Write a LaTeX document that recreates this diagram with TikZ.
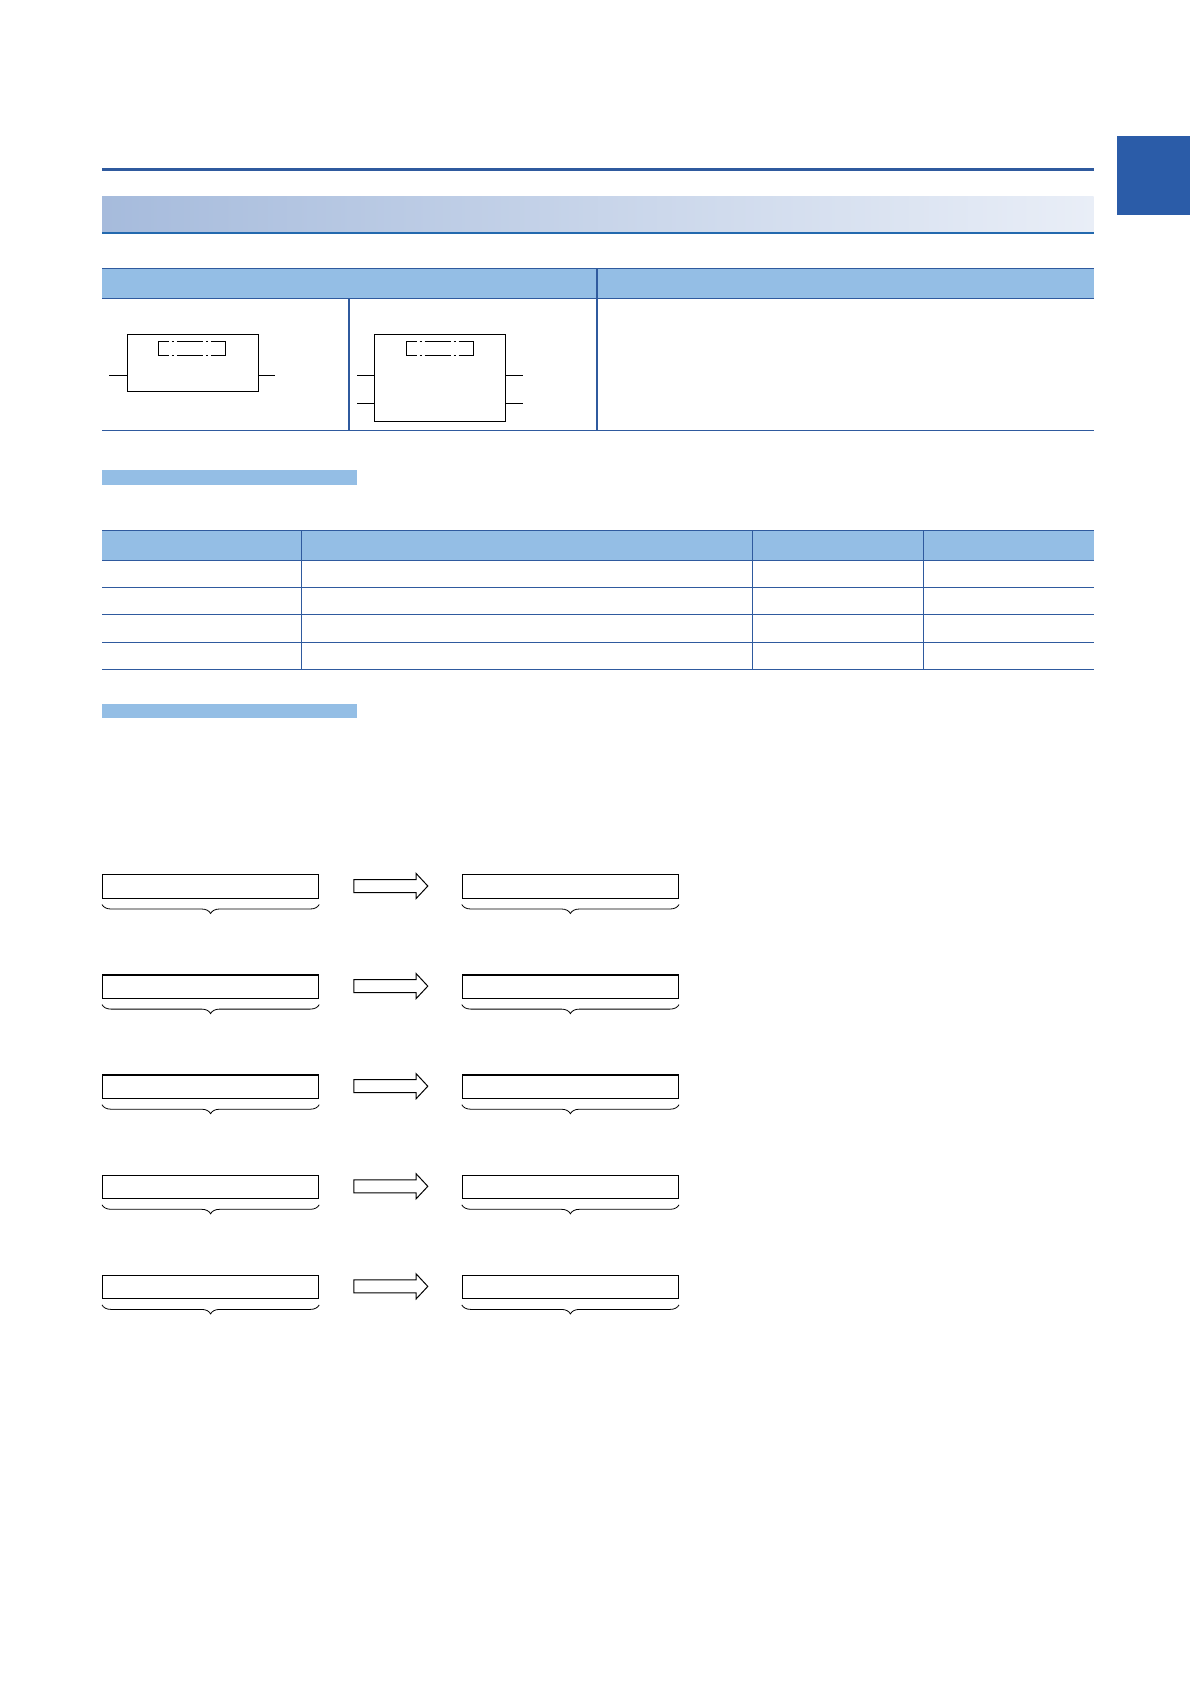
\documentclass[tikz,border=0pt]{standalone}
\usepackage{tikz}
\usetikzlibrary{shapes.arrows,decorations.pathreplacing}

\definecolor{rulecol}{HTML}{2F5A9E}
\definecolor{tabcol}{HTML}{2B5CA8}
\definecolor{headcol}{HTML}{94BEE5}
\definecolor{gradl}{HTML}{A6BBDC}
\definecolor{gradr}{HTML}{E9EEF7}
\definecolor{gradline}{HTML}{2369AE}

\begin{document}
\begin{tikzpicture}[x=0.5pt,y=-0.5pt]
  \tikzset{fblock/.style = {draw,line width=0.5pt,minimum width=65.5pt,inner sep=0,anchor=north west}}
  \tikzset{fname/.style = {minimum width=33pt,minimum height=7pt,inner sep=0}}
  \tikzset{pinline/.style = {line width=0.5pt}}
  \tikzset{dashdotline/.style = {line width=0.5pt,dash pattern=on 5pt off 1.5pt on 1pt off 1.5pt on 13pt off 1.5pt on 1pt off 1.5pt on 7pt}}
  \tikzset{tline/.style = {rulecol,line width=0.55pt}}
  \tikzset{databox/.style = {draw,line width=0.6pt,minimum width=108pt,minimum height=11.75pt,inner sep=0,anchor=north west}}
  \tikzset{conv/.style = {draw,line width=0.5pt,single arrow,minimum height=37pt,minimum width=12pt,
      single arrow head extend=3pt,single arrow tip angle=94,inner xsep=0,inner ysep=3pt,anchor=west}}
  \tikzset{brc/.style = {decorate,decoration={brace,mirror,amplitude=4.5pt},line width=0.4pt}}

\useasboundingbox (0,0) rectangle (1190,1684);

% page head
\fill[tabcol] (1117,136) rectangle (1190,215);
\draw[rulecol,line width=1.5pt] (102,169.5) -- (1093.5,169.5);
\shade[left color=gradl,right color=gradr] (102,196.7) rectangle (1093.5,232.7);
\draw[gradline,line width=0.6pt] (102,233) -- (1093.5,233);

% symbol table
\fill[headcol] (102,268.5) rectangle (1093.5,298.6);
\draw[tline] (102,268.5) -- (1093.5,268.5);
\draw[tline] (102,298.6) -- (1093.5,298.6);
\draw[tline] (102,430.7) -- (1093.5,430.7);
\draw[tline] (597,268.5) -- (597,430.7);
\draw[tline] (349,298.6) -- (349,430.7);

\node[fblock,minimum height=28.5pt] (fb1) at (127,334) {};
\node[fblock,minimum height=43.5pt] (fb2) at (374,334) {};
\node[fname] (fn1) at (192.3,348.5) {};
\node[fname] (fn2) at (440,348.5) {};
\foreach \f in {fn1,fn2} {
  \draw[pinline] (\f.north west) -- (\f.south west);
  \draw[pinline] (\f.north east) -- (\f.south east);
  \draw[dashdotline] (\f.north west) -- (\f.north east);
  \draw[dashdotline] (\f.south west) -- (\f.south east);
}

\coordinate (in1) at (109,376);
\coordinate (out1) at (275,376);
\draw[pinline] (in1) -- (in1 -| fb1.west);
\draw[pinline] (fb1.east |- out1) -- (out1);

\coordinate (in2a) at (357,376);
\coordinate (in2b) at (357,404);
\coordinate (out2a) at (523,376);
\coordinate (out2b) at (523,404);
\draw[pinline] (in2a) -- (in2a -| fb2.west);
\draw[pinline] (in2b) -- (in2b -| fb2.west);
\draw[pinline] (fb2.east |- out2a) -- (out2a);
\draw[pinline] (fb2.east |- out2b) -- (out2b);

% setting data
\fill[headcol] (102,470.4) rectangle (356.6,484.6);
\fill[headcol] (102,530.6) rectangle (1093.5,560.8);
\foreach \ry in {530.6,560.8,587.8,614.8,642.3,669.2}
  \draw[tline] (102,\ry) -- (1093.5,\ry);
\foreach \cx in {301.8,752.9,923.6}
  \draw[tline] (\cx,530.6) -- (\cx,669.2);

% processing
\fill[headcol] (102,703.6) rectangle (356.6,717.6);
\foreach \ry [count=\i] in {874.2,974.3,1074.4,1174.5,1274.6} {
  \node[databox] (src\i) at (102,\ry) {};
  \node[databox] (dst\i) at (461.8,\ry) {};
  \node[conv] (arr\i) at (353.3,\ry+11.8) {};
  \draw[brc] ([yshift=-2.8pt]src\i.south west) -- ([yshift=-2.8pt]src\i.south east);
  \draw[brc] ([yshift=-2.8pt]dst\i.south west) -- ([yshift=-2.8pt]dst\i.south east);
}

\end{tikzpicture}
\end{document}
